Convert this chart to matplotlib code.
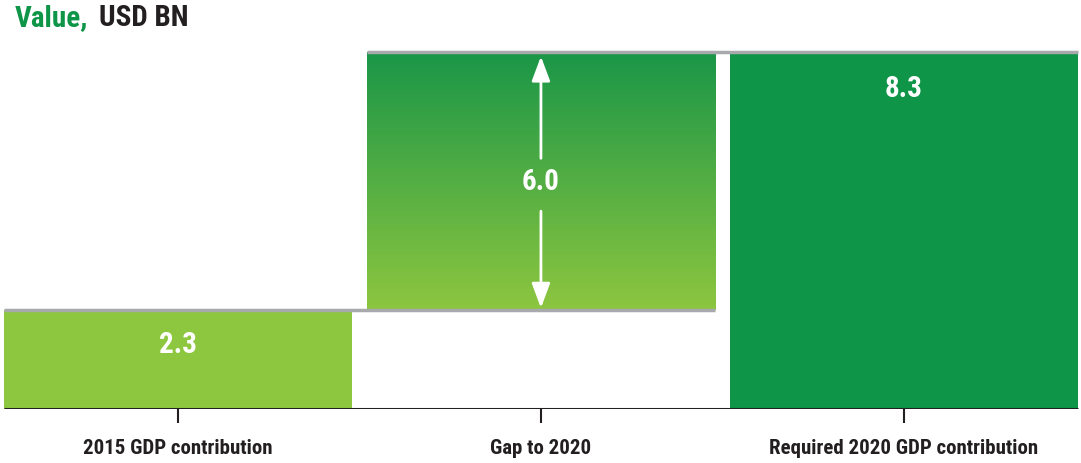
import numpy as np
import matplotlib.pyplot as plt
from matplotlib.colors import LinearSegmentedColormap

categories = ["2015 GDP contribution", "Gap to 2020", "Required 2020 GDP contribution"]
start_value = 2.3
gap_value = 6.0
required_value = 8.3

light_green = "#8DC63F"
dark_green = "#0E9548"
grad_top = "#1A9648"
grey = "#A7A9AC"
ink = "#231F20"
font = ["Roboto Condensed", "Archivo Narrow", "Asap Condensed", "DejaVu Sans"]

fig = plt.figure(figsize=(10.81, 4.64), dpi=100)
ax = fig.add_axes([0, 54 / 464, 1, 387 / 464])
ax.set_xlim(-0.490, 2.4876)
ax.set_ylim(0, 9)

w = 0.96
x = np.arange(len(categories))

# bar 1 and bar 3 solid
ax.bar(x[0], start_value, width=w, color=light_green, zorder=2)
ax.bar(x[2], required_value, width=w, color=dark_green, zorder=2)

# bar 2 with vertical gradient
cmap = LinearSegmentedColormap.from_list("g", [light_green, grad_top])
grad = np.linspace(0, 1, 256).reshape(-1, 1)
ax.imshow(grad, cmap=cmap, origin="lower", aspect="auto", zorder=2,
          extent=[x[1] - w / 2, x[1] + w / 2, start_value, start_value + gap_value])

# connector lines
ax.hlines(start_value, x[0] - w / 2, x[1] + w / 2, color=grey, lw=2.5, zorder=3)
ax.hlines(required_value, x[1] - w / 2, x[2] + w / 2, color=grey, lw=2.5, zorder=3,
          clip_on=False)
ax.hlines(0, x[0] - w / 2, x[2] + w / 2, color=ink, lw=2.2, zorder=4)

# value labels
lbl = dict(color="white", fontsize=21, fontweight="bold", family=font,
           ha="center", va="center", zorder=5)
ax.text(x[0], start_value * 0.66, f"{start_value:.1f}", **lbl)
mid = start_value + gap_value / 2
ax.text(x[1], mid, f"{gap_value:.1f}", **lbl)
ax.text(x[2], required_value - 0.84, f"{required_value:.1f}", **lbl)

# double arrow in the gap bar
aprops = dict(arrowstyle="-|>,head_length=0.75,head_width=0.28", color="white",
              lw=2, mutation_scale=20, shrinkA=0, shrinkB=0)
ax.annotate("", xy=(x[1], required_value - 0.1), xytext=(x[1], mid + 0.53),
            arrowprops=aprops, zorder=5)
ax.annotate("", xy=(x[1], start_value + 0.05), xytext=(x[1], mid - 0.7),
            arrowprops=aprops, zorder=5)

ax.set_xticks(x, categories, fontsize=15, fontweight="bold", family=font, color=ink)
ax.tick_params(axis="x", length=10, width=1.5, color=ink, pad=11)
ax.set_yticks([])
for s in ax.spines.values():
    s.set_visible(False)

fig.text(15 / 1081, 1 - 18 / 464, "Value,", color=dark_green, fontsize=21,
         fontweight="bold", family=font, va="center")
fig.text(99 / 1081, 1 - 18 / 464, "USD BN", color=ink, fontsize=21,
         fontweight="bold", family=font, va="center")

fig.savefig("out.png", dpi=100)
